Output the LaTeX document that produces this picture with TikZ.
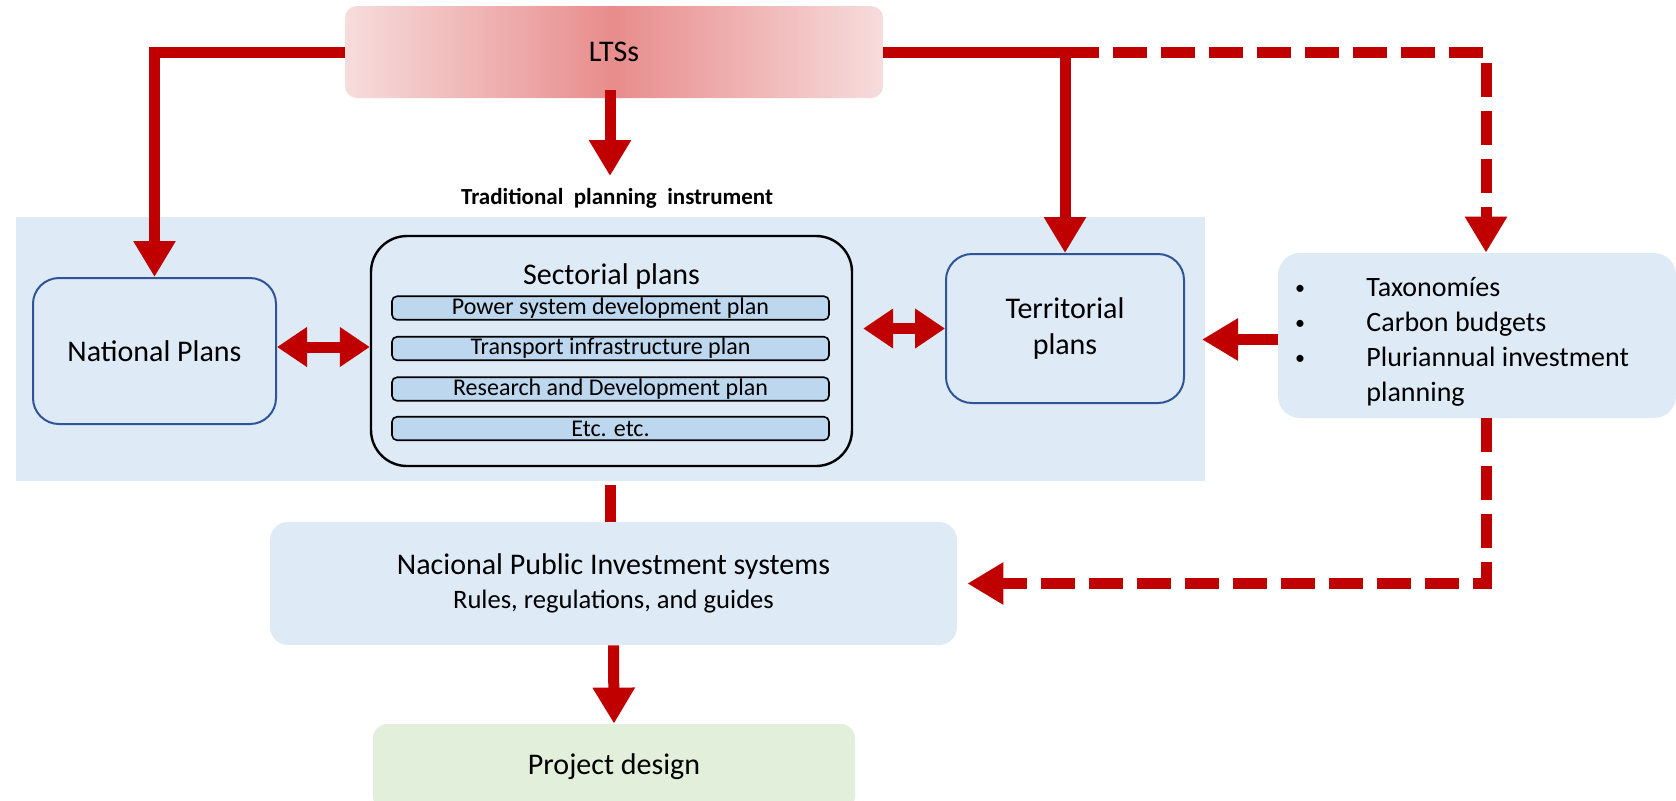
\documentclass[tikz,border=0pt]{standalone}
\usepackage{fontspec}
\setmainfont{Carlito}
\usetikzlibrary{arrows.meta,calc}
\definecolor{myred}{HTML}{C00000}
\definecolor{lblue}{HTML}{DEEAF6}
\definecolor{barblue}{HTML}{BDD7EE}
\definecolor{bordblue}{HTML}{2F5597}
\definecolor{lgreen}{HTML}{E2EFDA}
\definecolor{ltsdark}{HTML}{E88C8C}
\definecolor{ltslight}{HTML}{F7DCDC}
\tikzset{
  bigtxt/.style={font=\fontsize{15}{18}\selectfont},
  bultxt/.style={anchor=mid west, inner sep=0pt, font=\fontsize{14}{16}\selectfont},
  buldot/.style={font=\fontsize{10}{12}\selectfont},
  planbox/.style={draw=bordblue, line width=1pt, fill=lblue, rounded corners=13pt, bigtxt, align=center, inner sep=0pt},
  barbox/.style={draw=black, line width=0.8pt, fill=barblue, rounded corners=2.5pt, minimum width=218.5pt, minimum height=11.75pt, inner sep=0pt, font=\fontsize{12}{13}\selectfont},
  softbox/.style={fill=lblue, inner sep=0pt, align=center},
  redarrow/.style={draw=myred, line width=5.5pt, -{Triangle[width=20pt,length=18pt]}},
  redplain/.style={draw=myred, line width=5.5pt},
  dblarrow/.style={draw=myred, line width=5.5pt, {Triangle[width=19pt,length=15pt]}-{Triangle[width=19pt,length=15pt]}},
  dsharrow/.style={draw=myred, line width=5.5pt, dash pattern=on 17pt off 7pt, -{Triangle[width=20pt,length=18pt]}},
}
\begin{document}
\begin{tikzpicture}[x=0.5pt,y=-0.5pt]
\useasboundingbox (0,0) rectangle (1676,800);

% blue region
\node[fill=lblue, minimum width=594.5pt, minimum height=132pt, inner sep=0pt] (region) at (610.5,349) {};

% LTSs
\node[rounded corners=6pt, left color=ltslight, right color=ltslight, middle color=ltsdark,
      minimum width=269pt, minimum height=46pt, inner sep=0pt, bigtxt] (lts) at (614,52) {LTSs};

\node[font=\bfseries\fontsize{11.5}{13}\selectfont] (trad) at (617,198) {Traditional\ \ planning\ \ instrument};

% National plans
\node[planbox, minimum width=121.5pt, minimum height=73pt] (nat) at (154.5,351) {National Plans};

% Sectorial plans
\node[draw=black, line width=1.2pt, fill=lblue, rounded corners=18pt, minimum width=240.5pt, minimum height=115pt, inner sep=0pt] (sec) at (611.5,351) {};
\node[bigtxt] (sectitle) at (611.5,276) {Sectorial plans};
\node[barbox] (bar1) at (610.5,308) {Power system development plan};
\node[barbox] (bar2) at (610.5,348.5) {Transport infrastructure plan};
\node[barbox] (bar3) at (610.5,389) {Research and Development plan};
\node[barbox] (bar4) at (610.5,428.5) {Etc. etc.};

% Territorial plans
\node[planbox, minimum width=119pt, minimum height=74.5pt] (ter) at (1065,328.5) {Territorial\\plans};

% bullet box
\node[softbox, rounded corners=11pt, minimum width=199pt, minimum height=82.5pt] (bul) at (1477,335.5) {};
\node[buldot] (b1) at (1300,290) {\textbullet};
\node[buldot] (b2) at (1300,325) {\textbullet};
\node[buldot] (b3) at (1300,360) {\textbullet};
\node[bultxt] (t1) at (1366,292) {Taxonomíes};
\node[bultxt] (t2) at (1366,327) {Carbon budgets};
\node[bultxt] (t3) at (1366,362) {Pluriannual investment};
\node[bultxt] (t4) at (1366,397) {planning};

% NPIS
\node[softbox, rounded corners=9pt, minimum width=343.5pt, minimum height=61.5pt] (npis) at (613.5,583.5) {};
\node[bigtxt] (npis1) at (613.5,566) {Nacional Public Investment systems};
\node[font=\fontsize{13.3}{15}\selectfont] (npis2) at (613.5,602) {Rules, regulations, and guides};

% Project design
\node[fill=lgreen, rounded corners=7pt, minimum width=241pt, minimum height=43pt, inner sep=0pt, bigtxt] (proj) at (614,767) {Project design};

% connectors
\coordinate (ltstip) at (610,176);
\draw[redarrow] (lts.west) -| (nat.north);
\draw[redarrow] ([yshift=4pt]ltstip |- lts.south) -- (ltstip);
\draw[redarrow] (lts.east) -| (ter.north);
\draw[dsharrow] (ter.north |- lts.east) -| ([xshift=4.5pt]bul.north);
\draw[redarrow, shorten >=8.5pt] ([yshift=-2pt]bul.west) -- ([yshift=-2pt]bul.west -| ter.east);
\draw[dblarrow] ([yshift=2pt]nat.east) -- ([yshift=2pt]sec.west);
\draw[dblarrow, shorten <=5pt] (sec.east |- ter.west) -- (ter.west);
\draw[redplain, shorten <=2pt] (region.south) -- (region.south |- npis.north);
\draw[dsharrow, shorten >=5pt] ([xshift=4.5pt]bul.south) |- (npis.east);
\draw[redarrow] (npis.south) -- (proj.north);
\end{tikzpicture}
\end{document}
